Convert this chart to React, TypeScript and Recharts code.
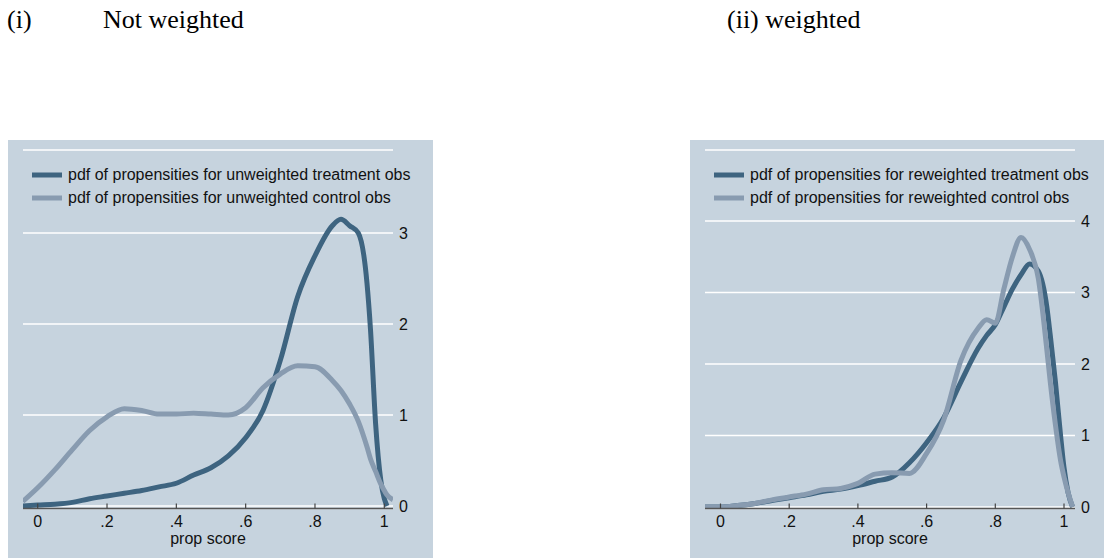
import React from 'react';
import { LineChart, Line, XAxis, YAxis, CartesianGrid, Legend } from 'recharts';

// x grid + density values
const leftX = [-0.043, 0, 0.05, 0.1, 0.15, 0.2, 0.25, 0.3, 0.35, 0.4, 0.45, 0.5, 0.55, 0.6, 0.65, 0.7, 0.75, 0.8, 0.85, 0.875, 0.9, 0.925, 0.95, 0.96, 0.975, 0.99, 1.0, 1.008, 1.025];
const leftTreat = [0, 0.01, 0.02, 0.04, 0.08, 0.11, 0.14, 0.17, 0.21, 0.25, 0.34, 0.42, 0.55, 0.75, 1.05, 1.6, 2.3, 2.75, 3.08, 3.15, 3.08, 3.0, 2.45, 1.95, 0.9, 0.28, 0.08, 0, null];
const leftControl = [0.05, 0.2, 0.4, 0.62, 0.83, 0.98, 1.07, 1.05, 1.01, 1.01, 1.02, 1.01, 1.0, 1.08, 1.3, 1.45, 1.54, 1.53, 1.38, 1.27, 1.12, 0.93, 0.65, 0.52, 0.38, 0.24, 0.17, 0.12, 0.07];

const rightX = [-0.045, 0, 0.05, 0.1, 0.15, 0.2, 0.25, 0.3, 0.35, 0.4, 0.45, 0.5, 0.55, 0.6, 0.65, 0.7, 0.75, 0.775, 0.8, 0.825, 0.85, 0.875, 0.9, 0.925, 0.95, 0.96, 0.975, 0.99, 1.0, 1.012, 1.025];
const rightTreat = [0, 0, 0.02, 0.05, 0.09, 0.13, 0.17, 0.22, 0.25, 0.3, 0.36, 0.42, 0.62, 0.9, 1.25, 1.75, 2.22, 2.4, 2.55, 2.8, 3.05, 3.25, 3.4, 3.3, 2.8, 2.4, 1.75, 1.0, 0.55, 0.2, 0];
const rightControl = [0, 0, 0.02, 0.05, 0.1, 0.14, 0.18, 0.24, 0.26, 0.33, 0.46, 0.48, 0.47, 0.75, 1.22, 2.05, 2.5, 2.62, 2.57, 3.05, 3.5, 3.77, 3.6, 3.2, 2.2, 1.75, 1.15, 0.65, 0.42, 0.2, 0];

const xTicks = [0, 0.2, 0.4, 0.6, 0.8, 1];
const leftYTicks = [0, 1, 2, 3];
const rightYTicks = [0, 1, 2, 3, 4];

const leftNames = ['pdf of propensities for unweighted treatment obs', 'pdf of propensities for unweighted control obs'];
const rightNames = ['pdf of propensities for reweighted treatment obs', 'pdf of propensities for reweighted control obs'];

const DARK = '#3e6480';
const LIGHT = '#889bb0';
const BG = '#c6d3de';
const FONT = '"Liberation Sans", Arial, sans-serif';

const toPoints = (xs: number[], ys: (number | null)[]) => xs.map((x, i) => ({ x, y: ys[i] }));

const fmtX = (v: number) => (v === 0 ? '0' : v === 1 ? '1' : String(v).replace(/^0/, ''));

const XTick = (props: any) => {
  const { x, y, payload } = props;
  const axisY = y - 7;
  return (
    <g>
      <line x1={x} x2={x} y1={axisY} y2={axisY - 5} stroke="#444" strokeWidth={1.2} />
      <text x={x} y={y} dy="0.71em" textAnchor="middle" fontSize={16} fontFamily={FONT} fill="#111">
        {fmtX(payload.value)}
      </text>
    </g>
  );
};

const LegendBox = ({ names }: { names: string[] }) => (
  <div style={{ fontFamily: FONT, fontSize: 16, color: '#111' }}>
    {names.map((n, i) => (
      <div key={n} style={{ display: 'flex', alignItems: 'center', height: 23, whiteSpace: 'nowrap' }}>
        <svg width={30} height={6} style={{ marginRight: 6 }}>
          <rect x={0} y={0.5} width={30} height={5} fill={i === 0 ? DARK : LIGHT} />
        </svg>
        <span>{n}</span>
      </div>
    ))}
  </div>
);

type PanelProps = {
  left: number;
  xs: number[];
  treat: (number | null)[];
  control: (number | null)[];
  xDomain: [number, number];
  yDomain: [number, number];
  yTicks: number[];
  names: string[];
};

const Panel = ({ left, xs, treat, control, xDomain, yDomain, yTicks, names }: PanelProps) => (
  <div style={{ position: 'absolute', left, top: 140, width: 425, height: 418, background: BG }}>
    <LineChart width={425} height={418} margin={{ top: 10, right: 10, left: 15, bottom: 9.5 }}>
      <CartesianGrid horizontal vertical={false} stroke="#ffffff" strokeWidth={1.5} />
      <XAxis
        type="number"
        dataKey="x"
        domain={xDomain}
        ticks={xTicks}
        allowDataOverflow
        height={40}
        tickSize={1}
        tickMargin={6}
        tickLine={false}
        axisLine={{ stroke: '#555', strokeWidth: 1.5 }}
        tick={<XTick />}
        label={{ value: 'prop score', position: 'insideBottom', offset: 5, fontSize: 16, fontFamily: FONT, fill: '#111' }}
      />
      <YAxis
        type="number"
        orientation="right"
        domain={yDomain}
        ticks={yTicks}
        allowDataOverflow
        width={30}
        tickSize={1}
        tickMargin={5}
        tickLine={false}
        axisLine={false}
        tick={{ fontSize: 16, fontFamily: FONT, fill: '#111', textAnchor: 'start' }}
      />
      <Legend
        layout="vertical"
        align="center"
        verticalAlign="middle"
        wrapperStyle={{ left: 24, top: 23.5, width: 'auto', height: 'auto' }}
        content={() => <LegendBox names={names} />}
      />
      <Line data={toPoints(xs, treat)} dataKey="y" name={names[0]} type="monotone" stroke={DARK} strokeWidth={5} dot={false} isAnimationActive={false} />
      <Line data={toPoints(xs, control)} dataKey="y" name={names[1]} type="monotone" stroke={LIGHT} strokeWidth={5} dot={false} isAnimationActive={false} />
    </LineChart>
  </div>
);

export default function App() {
  return (
    <div style={{ position: 'absolute', left: 0, top: 0, width: 1104, height: 558, overflow: 'hidden', background: '#fff' }}>
      <svg width={1104} height={40} style={{ position: 'absolute', left: 0, top: 0 }}>
        <g fontFamily='"Liberation Serif", "Times New Roman", serif' fontSize={26} fill="#000">
          <text x={7} y={28}>(i)</text>
          <text x={103} y={28}>Not weighted</text>
          <text x={727} y={28}>(ii) weighted</text>
        </g>
      </svg>
      <Panel left={8} xs={leftX} treat={leftTreat} control={leftControl} xDomain={[-0.0424, 1.0251]} yDomain={[-0.0275, 3.912]} yTicks={leftYTicks} names={leftNames} />
      <Panel left={690} xs={rightX} treat={rightTreat} control={rightControl} xDomain={[-0.0451, 1.032]} yDomain={[-0.021, 4.993]} yTicks={rightYTicks} names={rightNames} />
    </div>
  );
}
